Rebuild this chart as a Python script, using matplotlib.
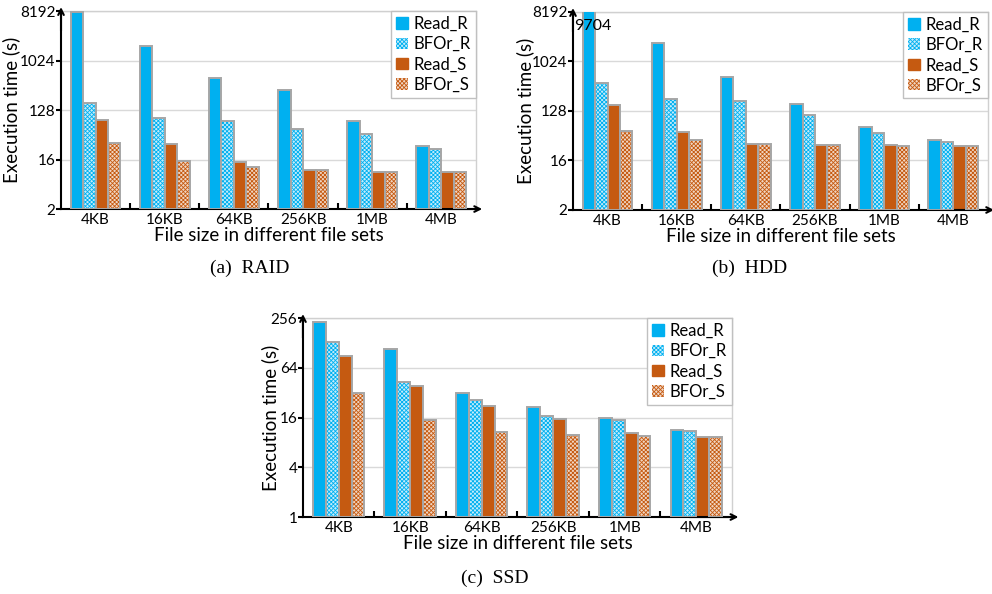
import matplotlib
matplotlib.use("Agg")
import matplotlib.pyplot as plt
import numpy as np
from matplotlib.patches import Patch

plt.rcParams['font.family'] = ['Lato', 'DejaVu Sans']
plt.rcParams['hatch.linewidth'] = 0.6

categories = ["4KB", "16KB", "64KB", "256KB", "1MB", "4MB"]
series = ["Read_R", "BFOr_R", "Read_S", "BFOr_S"]

raid_read_r = [8000, 1900, 484, 290, 80, 26.3]
raid_bfor_r = [173, 88.6, 80, 56.6, 44, 22.9]
raid_read_s = [82.6, 28.2, 12.6, 8.3, 7.6, 7.6]
raid_bfor_s = [29.9, 12.9, 9.5, 8.3, 7.6, 7.6]

hdd_read_r = [9704, 2180, 534, 173, 63.3, 36.3]
hdd_bfor_r = [410, 210, 193, 108, 49.3, 32.5]
hdd_read_s = [163, 52, 29.8, 28.2, 28.2, 27]
hdd_bfor_s = [53.6, 36.3, 30, 29, 27.5, 27]

ssd_read_r = [231, 108, 30.7, 20.4, 14.8, 10.4]
ssd_bfor_r = [128.6, 42, 25.2, 15.8, 13.8, 9.94]
ssd_read_s = [87.7, 37.3, 21.1, 14.2, 9.4, 8.42]
ssd_bfor_s = [31, 14, 9.67, 8.82, 8.5, 8.3]

yticks_big = [2, 16, 128, 1024, 8192]
yticks_ssd = [1, 4, 16, 64, 256]

BLUE = '#00b0f0'
ORANGE = '#c55a11'
EDGE = '#a6a6a6'
styles = [
    dict(color=BLUE, tint=None, hatch=None),
    dict(color=BLUE, tint='#c4ecfb', hatch='xxxxxxxx'),
    dict(color=ORANGE, tint=None, hatch=None),
    dict(color=ORANGE, tint='#f1d6c3', hatch='xxxxxxxx'),
]

W_PX = 992
fig = plt.figure(figsize=(9.92, 5.94), dpi=100)


def draw_panel(rect, data, yticks, caption, cap_xy, ylab_px, annot=None):
    ax = fig.add_axes(rect)
    x = np.arange(len(categories))
    w = 0.18
    for i, (vals, st) in enumerate(zip(data, styles)):
        pos = x + (i - 1.5) * w
        if st['hatch'] is None:
            ax.bar(pos, vals, w, bottom=yticks[0], color=st['color'], edgecolor=EDGE,
                   linewidth=1.4, zorder=3)
        else:
            ax.bar(pos, vals, w, bottom=yticks[0], color=st['tint'], edgecolor=st['color'],
                   hatch=st['hatch'], linewidth=0, zorder=3)
            ax.bar(pos, vals, w, bottom=yticks[0], fill=False, edgecolor=EDGE,
                   linewidth=1.4, zorder=4)
    ax.set_yscale('log', base=2)
    ax.set_ylim(yticks[0], yticks[-1])
    ax.set_xlim(-0.5, len(categories) - 0.5)
    ax.set_yticks(yticks)
    ax.set_yticklabels([str(t) for t in yticks], fontsize=11)
    ax.minorticks_off()
    ax.set_xticks(x)
    ax.set_xticklabels(categories, fontsize=11)
    ax.tick_params(axis='x', length=0, pad=3)
    ax.set_xticks(np.arange(len(categories) - 1) + 0.5, minor=True)
    ax.tick_params(axis='x', which='minor', direction='in', length=4, width=1.5)
    ax.tick_params(axis='y', direction='out', length=3.5, width=1.5, pad=0.5)
    ax.grid(axis='y', color='#d9d9d9', linewidth=1, zorder=0)
    ax.set_axisbelow(True)
    for s in ['left', 'bottom']:
        ax.spines[s].set_color('black')
        ax.spines[s].set_linewidth(1.5)
    for s in ['top', 'right']:
        ax.spines[s].set_color('#d0d0d0')
        ax.spines[s].set_linewidth(1)
    ax.annotate('', xy=(1.015, 0), xytext=(0.9, 0), xycoords='axes fraction',
                arrowprops=dict(arrowstyle='->', lw=1.5, color='black',
                                shrinkA=0, shrinkB=0), annotation_clip=False)
    ax.annotate('', xy=(0, 1.02), xytext=(0, 0.9), xycoords='axes fraction',
                arrowprops=dict(arrowstyle='->', lw=1.5, color='black',
                                shrinkA=0, shrinkB=0), annotation_clip=False)
    ax.set_xlabel('File size in different file sets', fontsize=13.5, labelpad=0)
    ax.set_ylabel('Execution time (s)', fontsize=13.5, va='center')
    ax_w_px = rect[2] * W_PX
    ax.yaxis.set_label_coords((ylab_px - rect[0] * W_PX) / ax_w_px, 0.5)
    handles = []
    for name, st in zip(series, styles):
        if st['hatch'] is None:
            handles.append(Patch(facecolor=st['color'], edgecolor=st['color'], label=name))
        else:
            handles.append(Patch(facecolor=st['tint'], edgecolor=st['color'],
                                 hatch=st['hatch'], linewidth=0, label=name))
    leg = ax.legend(handles=handles, loc='upper right', borderaxespad=0,
                    fontsize=12, handlelength=0.7, handleheight=0.7,
                    handletextpad=0.35, labelspacing=0.25, fancybox=False,
                    edgecolor='#c0c0c0', framealpha=1, borderpad=0.3)
    leg.get_frame().set_linewidth(1)
    if annot is not None:
        ax.text(-0.48, 0.93, annot, transform=ax.get_xaxis_transform(),
                fontsize=11.5, va='center', ha='left', zorder=6)
    fig.text(cap_xy[0], cap_xy[1], caption, ha='center', va='center',
             fontsize=14, family='Liberation Serif')
    return ax


draw_panel([0.0615, 0.6481, 0.4183, 0.3333],
           [raid_read_r, raid_bfor_r, raid_read_s, raid_bfor_s],
           yticks_big, '(a)  RAID', (250 / 992, 1 - 268 / 594), ylab_px=11)
draw_panel([0.5776, 0.6465, 0.4183, 0.3333],
           [hdd_read_r, hdd_bfor_r, hdd_read_s, hdd_bfor_s],
           yticks_big, '(b)  HDD', (750 / 992, 1 - 268 / 594), ylab_px=525,
           annot='9704')
draw_panel([0.3054, 0.1296, 0.4325, 0.335],
           [ssd_read_r, ssd_bfor_r, ssd_read_s, ssd_bfor_s],
           yticks_ssd, '(c)  SSD', (495 / 992, 1 - 578 / 594), ylab_px=270)

fig.savefig('out.png', dpi=100)
